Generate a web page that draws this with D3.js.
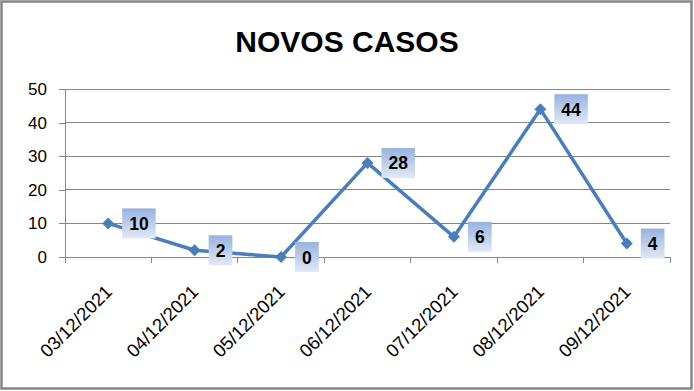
<!DOCTYPE html>
<html><head><meta charset="utf-8">
<script src="https://cdn.jsdelivr.net/npm/d3@7"></script>
<style>body{margin:0;background:#fff}svg{display:block}</style>
</head><body>
<script>
const categories = ["03/12/2021","04/12/2021","05/12/2021","06/12/2021","07/12/2021","08/12/2021","09/12/2021"];
const values = [10, 2, 0, 28, 6, 44, 4];
const yTicks = [0, 10, 20, 30, 40, 50];
const title = "NOVOS CASOS";

(function(){
const W = 694, H = 391;
const svg = d3.select("body").append("svg").attr("width", W).attr("height", H);
const defs = svg.append("defs");
const grad = defs.append("linearGradient").attr("id","lbl").attr("x1",0).attr("y1",0).attr("x2",0).attr("y2",1);
grad.append("stop").attr("offset","0%").attr("stop-color","#98b2e0");
grad.append("stop").attr("offset","100%").attr("stop-color","#e2e9f6");

svg.append("rect").attr("x",1.5).attr("y",1.5).attr("width",W-4).attr("height",H-4)
  .attr("fill","#fff").attr("stroke","#868686").attr("stroke-width",2.5);

svg.append("text").attr("x",347).attr("y",52).attr("text-anchor","middle")
  .attr("font-family","Liberation Sans, Arial, sans-serif").attr("font-weight","bold")
  .attr("font-size",30).attr("fill","#000").text(title);

const mLeft = 65, mRight = 670, mTop = 89, mBottom = 257;
const x = d3.scaleBand().domain(categories).range([mLeft, mRight]);
const y = d3.scaleLinear().domain([0, 50]).range([mBottom, mTop]);

svg.append("g").selectAll("line").data(yTicks).join("line")
  .attr("x1", mLeft).attr("x2", mRight).attr("y1", d=>y(d)).attr("y2", d=>y(d))
  .attr("stroke","#868686").attr("stroke-width",1).attr("shape-rendering","crispEdges");

const font = "Liberation Sans, Arial, sans-serif";
const yAxis = svg.append("g").attr("transform",`translate(${mLeft},0)`)
  .call(d3.axisLeft(y).tickValues(yTicks).tickSize(6).tickPadding(6).tickFormat(d3.format("d")));
yAxis.select(".domain").attr("stroke","#868686").attr("shape-rendering","crispEdges");
yAxis.selectAll(".tick line").attr("stroke","#868686").attr("shape-rendering","crispEdges");
yAxis.selectAll("text").attr("font-family",font).attr("font-size",17).attr("fill","#000").attr("dx",-6);

const xb = categories.map(c => x(c)).concat([mRight]);
svg.append("g").selectAll("line").data(xb).join("line")
  .attr("x1", d=>d).attr("x2", d=>d).attr("y1", mBottom).attr("y2", mBottom+6)
  .attr("stroke","#868686").attr("shape-rendering","crispEdges");

svg.append("g").selectAll("text").data(categories).join("text")
  .attr("transform", d=>`translate(${x(d)+x.bandwidth()/2+5},${mBottom+36}) rotate(-45)`)
  .attr("text-anchor","end").attr("font-family",font).attr("font-size",18.5).attr("fill","#000").text(d=>d);

const cx = (d,i) => x(categories[i]) + x.bandwidth()/2;
const line = d3.line().x((d,i)=>cx(d,i)).y(d=>y(d));
svg.append("path").datum(values).attr("d", line).attr("fill","none")
  .attr("stroke","#4a7ebb").attr("stroke-width",3.5).attr("stroke-linejoin","round");

svg.append("g").selectAll("path").data(values).join("path")
  .attr("d", d3.symbol().type(d3.symbolSquare).size(72))
  .attr("transform",(d,i)=>`translate(${cx(d,i)},${y(d)}) rotate(45)`)
  .attr("fill","#4a7ebb");

const labels = svg.append("g").selectAll("g").data(values).join("g")
  .attr("transform",(d,i)=>`translate(${cx(d,i)+14},${y(d)})`);
labels.each(function(d){
  const g = d3.select(this);
  const t = g.append("text").attr("x",7).attr("y",6.5).attr("font-family",font).attr("font-weight","bold")
    .attr("font-size",17.5).attr("fill","#000").text(d);
  const w = t.node().getComputedTextLength();
  g.insert("rect","text").attr("x",0).attr("y",-15).attr("width",w+14).attr("height",30).attr("fill","url(#lbl)");
});
})();
</script>
</body></html>
